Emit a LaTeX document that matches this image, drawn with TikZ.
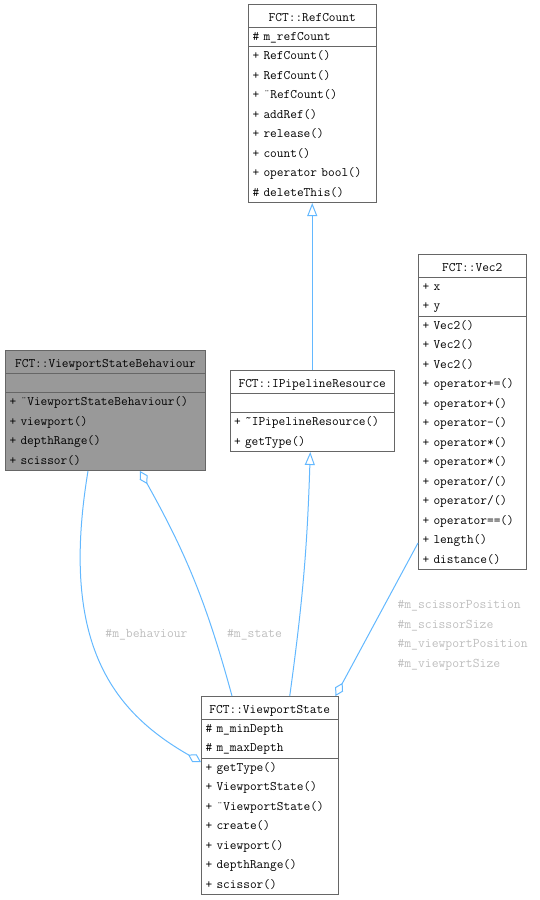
\documentclass[tikz,border=0pt]{standalone}
\usepackage{fontspec}
\setmonofont{Latin Modern Mono}[WordSpace={1,0,0}]
\usepackage{tikz}
\usetikzlibrary{shapes.multipart}
\usetikzlibrary{arrows.meta}
\usetikzlibrary{calc}
\definecolor{edgeblue}{HTML}{63B8FF}
\definecolor{boxborder}{HTML}{666666}
\definecolor{labelgrey}{HTML}{BEBEBE}
\definecolor{focusgrey}{HTML}{999999}
\newcommand{\rowstrut}{\rule[-6.5pt]{0pt}{19.5pt}}
\newcommand{\titlestrut}{\rule[-5.5pt]{0pt}{22.5pt}}
\newcommand{\accentcell}[1]{\makebox[0.525em]{#1}}
\newcommand{\classfont}{\ttfamily\fontsize{13}{19.5}\selectfont}
\setlength{\parindent}{0pt}
\tikzset{
    classbox/.style={draw=boxborder, fill=white, rectangle split, rectangle split parts=3,
        anchor=north west, inner xsep=4pt, inner ysep=-0.5pt, align=left,
        font=\classfont},
    focusbox/.style={classbox, fill=focusgrey},
    inherit/.style={draw=edgeblue, -{Triangle[open,length=13pt,width=10pt]}},
    aggregate/.style={draw=edgeblue, -{Diamond[open,length=15pt,width=9pt]}},
    edgelabel/.style={text=labelgrey, inner sep=0pt, align=left,
        font=\ttfamily\fontsize{13.3}{19.5}\selectfont},
}

\begin{document}
\begin{tikzpicture}[x=1pt, y=-1pt, line width=1pt]
\useasboundingbox (0,0) rectangle (539,900);
	% classes
	\node[classbox, text width=119.5pt] (refcount) at (248,4)
		{{\centering\titlestrut FCT::RefCount\par}
		\nodepart{two}\rowstrut\# m\_refCount
		\nodepart{three}\rowstrut+ RefCount()\\ \rowstrut+ RefCount()\\ \rowstrut+ \accentcell{¨}RefCount()\\
		\rowstrut+ addRef()\\ \rowstrut+ release()\\ \rowstrut+ count()\\
		\rowstrut+ operator bool()\\ \rowstrut\# deleteThis()};
	\node[focusbox, text width=192pt] (behav) at (5,350)
		{{\centering\titlestrut FCT::ViewportStateBehaviour\par}
		\nodepart{two}\rowstrut
		\nodepart{three}\rowstrut+ \accentcell{¨}ViewportStateBehaviour()\\ \rowstrut+ viewport()\\
		\rowstrut+ depthRange()\\ \rowstrut+ scissor()};
	\node[classbox, text width=156.5pt] (pipeline) at (229.5,370)
		{{\centering\titlestrut FCT::IPipelineResource\par}
		\nodepart{two}\rowstrut
		\nodepart{three}\rowstrut+ \accentcell{˜}IPipelineResource()\\ \rowstrut+ getType()};
	\node[classbox, text width=99.5pt] (vec2) at (418,254)
		{{\centering\titlestrut FCT::Vec2\par}
		\nodepart{two}\rowstrut+ x\\ \rowstrut+ y
		\nodepart{three}\rowstrut+ Vec2()\\ \rowstrut+ Vec2()\\ \rowstrut+ Vec2()\\
		\rowstrut+ operator+=()\\ \rowstrut+ operator+()\\ \rowstrut+ operator-()\\
		\rowstrut+ operator*()\\ \rowstrut+ operator*()\\ \rowstrut+ operator/()\\
		\rowstrut+ operator/()\\ \rowstrut+ operator==()\\ \rowstrut+ length()\\
		\rowstrut+ distance()};
	\node[classbox, text width=128.5pt] (vstate) at (201,696)
		{{\centering\titlestrut FCT::ViewportState\par}
		\nodepart{two}\rowstrut\# m\_minDepth\\ \rowstrut\# m\_maxDepth
		\nodepart{three}\rowstrut+ getType()\\ \rowstrut+ ViewportState()\\
		\rowstrut+ \accentcell{¨}ViewportState()\\ \rowstrut+ create()\\ \rowstrut+ viewport()\\
		\rowstrut+ depthRange()\\ \rowstrut+ scissor()};
	% labels
	\node[edgelabel, anchor=base] (lbehav) at (146.5,637) {\#m\_behaviour};
	\node[edgelabel, anchor=base] (lstate) at (254.5,637) {\#m\_state};
	\node[edgelabel, anchor=north west] (lvec) at (397,595)
		{\rowstrut\#m\_scissorPosition\\ \rowstrut\#m\_scissorSize\\
		\rowstrut\#m\_viewportPosition\\ \rowstrut\#m\_viewportSize};
	% edges
	\draw[inherit] (pipeline.north) -- (refcount.south);
	\draw[inherit] ($(vstate.north)+(20,0)$) to[bend right=3] ($(pipeline.south)+(-2,0)$);
	\draw[aggregate] ($(behav.south west)+(83,0)$) .. controls +(-28,169) and +(-91,-52) .. ($(vstate.north west)+(0,66)$);
	\draw[aggregate] ($(vstate.north west)+(31,0)$) to[bend right=7] ($(behav.south west)+(135,0)$);
	\draw[aggregate] ($(vec2.north west)+(0,289)$) -- ($(vstate.north east)+(-3,0)$);
\end{tikzpicture}
\end{document}
